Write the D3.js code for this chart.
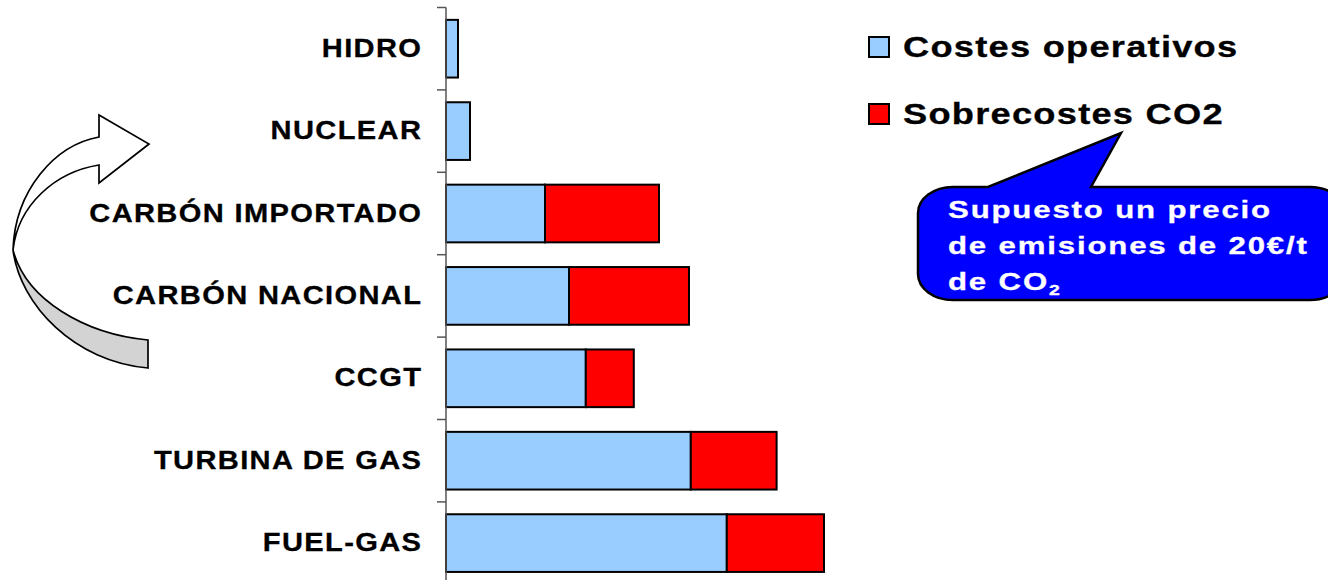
<!DOCTYPE html>
<html>
<head>
<meta charset="utf-8">
<script src="https://cdn.jsdelivr.net/npm/d3@7"></script>
<style>
  html, body { margin: 0; padding: 0; background: #fff; }
  svg { display: block; font-family: "Liberation Sans", Arial, sans-serif; font-weight: bold; }
</style>
</head>
<body>
<svg id="chart" width="1328" height="580"></svg>
<script>
// Generation technologies, top to bottom
const categories = ["HIDRO", "NUCLEAR", "CARBÓN IMPORTADO", "CARBÓN NACIONAL", "CCGT", "TURBINA DE GAS", "FUEL-GAS"];
// Operating cost and CO2 surcharge (€/MWh)
const costesOperativos = [2.0, 4.0, 16.5, 20.5, 23.3, 40.8, 46.8];
const sobrecostesCO2 = [0, 0, 19.0, 20.0, 8.0, 14.3, 16.2];
const seriesNames = ["Costes operativos", "Sobrecostes CO2"];
const seriesColors = ["#99CCFF", "#FF0000"];
const calloutLines = ["Supuesto un precio", "de emisiones de 20€/t", "de CO"];

const svg = d3.select("#chart");

const y = d3.scaleBand()
  .domain(categories)
  .range([7.5, 7.5 + 82.4 * categories.length])
  .paddingInner(0.3)
  .paddingOuter(0.15);

const x = d3.scaleLinear().domain([0, 147]).range([446, 1328]);

// Horizontally widened text, anchored at (px, py)
function wideText(parent, px, py, sx, str, opts) {
  const t = parent.append("text")
    .attr("transform", `translate(${px},${py}) scale(${sx},1)`)
    .attr("font-size", opts.size)
    .attr("letter-spacing", opts.ls || 0)
    .attr("text-anchor", opts.anchor || "start")
    .attr("fill", opts.fill || "#000")
    .attr("stroke", opts.fill || "#000")
    .attr("stroke-width", 0.3)
    .text(str);
  return t;
}

// Stacked bars
const rows = categories.map((c, i) => ({ cat: c, parts: [costesOperativos[i], sobrecostesCO2[i]] }));
const g = svg.append("g");
rows.forEach(r => {
  let acc = 0;
  r.parts.forEach((v, j) => {
    if (v <= 0) return;
    g.append("rect")
      .attr("x", x(acc))
      .attr("y", y(r.cat))
      .attr("width", x(acc + v) - x(acc))
      .attr("height", y.bandwidth())
      .attr("fill", seriesColors[j])
      .attr("stroke", "#000")
      .attr("stroke-width", 2);
    acc += v;
  });
});

// Category axis: line with ticks on the band boundaries
const axis = svg.append("g");
const step = y.step();
axis.append("line")
  .attr("x1", x(0)).attr("x2", x(0))
  .attr("y1", y.range()[0]).attr("y2", y.range()[1])
  .attr("stroke", "#555").attr("stroke-width", 1.5);
d3.range(categories.length + 1).forEach(i => {
  const yy = y.range()[0] + i * step;
  axis.append("line")
    .attr("x1", x(0) - 9).attr("x2", x(0))
    .attr("y1", yy).attr("y2", yy)
    .attr("stroke", "#555").attr("stroke-width", 1.5);
});
const catLs = 1.2, catSx = 1.12;
categories.forEach(c => {
  wideText(axis, 421 + catLs * catSx, y(c) + y.bandwidth() / 2 + 8, catSx, c,
    { size: 26, ls: catLs, anchor: "end" });
});

// Legend
const legend = svg.append("g");
seriesNames.forEach((name, i) => {
  const top = 37 + i * 67;
  legend.append("rect")
    .attr("x", 869).attr("y", top)
    .attr("width", 20).attr("height", 20)
    .attr("fill", seriesColors[i])
    .attr("stroke", "#000").attr("stroke-width", 2);
  wideText(legend, 903, top + 20, 1.25, name, { size: 29, ls: 1.0 });
});

// Callout bubble with the CO2 price assumption
const L = 918, R = 1345, T = 187, B = 300, rx = 35, ry = 26;
const bubble = `M${L + rx},${T} L988,${T} L1121,133 L1091,${T} L${R - rx},${T}
  A${rx},${ry} 0 0 1 ${R},${T + ry} L${R},${B - ry} A${rx},${ry} 0 0 1 ${R - rx},${B}
  L${L + rx},${B} A${rx},${ry} 0 0 1 ${L},${B - ry} L${L},${T + ry} A${rx},${ry} 0 0 1 ${L + rx},${T} Z`;
svg.append("path")
  .attr("d", bubble)
  .attr("fill", "#0000FF")
  .attr("stroke", "#000")
  .attr("stroke-width", 2.5);

svg.append("clipPath").attr("id", "calloutClip")
  .append("rect").attr("x", 900).attr("y", 180).attr("width", 413).attr("height", 130);
const ct = svg.append("g").attr("clip-path", "url(#calloutClip)");
calloutLines.forEach((line, i) => {
  const t = wideText(ct, 948, 218 + i * 36, 1.3, line, { size: 24, ls: 1.4, fill: "#fff" });
  if (i === calloutLines.length - 1) {
    t.append("tspan").attr("font-size", 15).attr("dy", 5).text("2");
  }
});

// Curved arrow on the left (ribbon turning back on itself)
const arrow = svg.append("g").attr("stroke", "#000").attr("stroke-width", 1.7).attr("stroke-linejoin", "miter");
arrow.append("path")
  .attr("d", "M13,250 C20,305 75,362 148,368 L148,340 C85,334 26,300 13,250 Z")
  .attr("fill", "#D3D3D3");
arrow.append("path")
  .attr("d", "M13,250 C15,190 55,145 99,137 L99,115 L149,144 L99,183 L99,165 C55,172 18,205 13,250 Z")
  .attr("fill", "#fff");
</script>
</body>
</html>
